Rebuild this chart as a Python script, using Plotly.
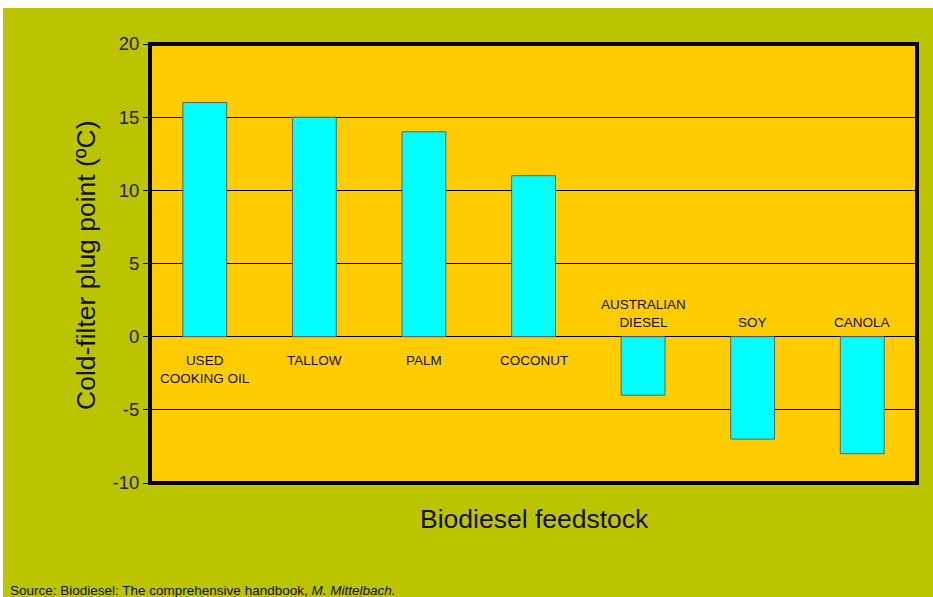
import plotly.graph_objects as go

categories = ["USED<br>COOKING OIL", "TALLOW", "PALM", "COCONUT", "AUSTRALIAN<br>DIESEL", "SOY", "CANOLA"]
cfpp_values = [16, 15, 14, 11, -4, -7, -8]
y_ticks = [-10, -5, 0, 5, 10, 15, 20]
y_tick_labels = ["-10", "-5", "0", "5", "10", "15", "20"]

W, H = 933, 597
ML, MR, MT, MB = 150, 16, 44, 114
PW, PH = W - ML - MR, H - MT - MB

def px_x(p):
    return (p - ML) / PW

def px_y(p):
    return (H - MB - p) / PH

xs = list(range(len(categories)))
FONT = "Liberation Sans, Arial"

fig = go.Figure()
fig.add_trace(go.Bar(
    x=xs, y=cfpp_values,
    marker=dict(color="#00FFFF", line=dict(color="#606060", width=1)),
    width=0.4, hoverinfo="skip", showlegend=False,
))

annotations = []
for i, (c, v) in enumerate(zip(categories, cfpp_values)):
    if v >= 0:
        annotations.append(dict(x=i, y=-0.95, xref="x", yref="y", text=c, showarrow=False,
                                yanchor="top", font=dict(size=13.5, color="#111", family=FONT)))
    else:
        annotations.append(dict(x=i, y=0.35, xref="x", yref="y", text=c, showarrow=False,
                                yanchor="bottom", font=dict(size=13.5, color="#111", family=FONT)))

annotations.append(dict(x=px_x(86), y=px_y(265), xref="paper", yref="paper",
                        text="Cold-filter plug point (ºC)", textangle=-90, showarrow=False,
                        xanchor="center", yanchor="middle",
                        font=dict(size=26.5, color="#111", family=FONT)))
annotations.append(dict(x=px_x(534), y=px_y(519), xref="paper", yref="paper",
                        text="Biodiesel feedstock", showarrow=False,
                        xanchor="center", yanchor="middle",
                        font=dict(size=26.5, color="#111", family=FONT)))
annotations.append(dict(x=px_x(8), y=px_y(590), xref="paper", yref="paper",
                        text="Source: Biodiesel: The comprehensive handbook, <i>M. Mittelbach.</i>",
                        showarrow=False, xanchor="left", yanchor="middle",
                        font=dict(size=13.5, color="#111", family=FONT)))

shapes = [
    dict(type="rect", xref="paper", yref="paper", x0=px_x(3), x1=px_x(W + 5), y0=px_y(H + 5), y1=px_y(8),
         fillcolor="#BCC400", line=dict(width=0), layer="below"),
    dict(type="rect", xref="paper", yref="paper", x0=0, x1=1, y0=0, y1=1,
         fillcolor="#FFCC00", line=dict(width=0), layer="below"),
    dict(type="rect", xref="paper", yref="paper", x0=0, x1=1, y0=0, y1=1,
         fillcolor="rgba(0,0,0,0)", line=dict(color="black", width=4), layer="above"),
]

fig.update_layout(
    width=W, height=H, autosize=False,
    margin=dict(l=ML, r=MR, t=MT, b=MB),
    paper_bgcolor="white", plot_bgcolor="#FFCC00",
    xaxis=dict(range=[-0.5, 6.5], showticklabels=False, showgrid=False, zeroline=False,
               ticks="", showline=False),
    yaxis=dict(range=[-10, 20], tickvals=y_ticks, ticktext=y_tick_labels,
               ticks="outside", ticklen=6, tickcolor="black",
               tickfont=dict(size=18.5, color="#222", family=FONT),
               showgrid=True, gridcolor="black", gridwidth=1,
               zeroline=True, zerolinecolor="black", zerolinewidth=1, showline=False),
    annotations=annotations, shapes=shapes,
)

fig.write_html(
    "out.html",
    config={"displayModeBar": False},
    post_script="document.body.style.margin='0';document.body.style.padding='0';"
                "document.documentElement.style.overflow='hidden';",
)
